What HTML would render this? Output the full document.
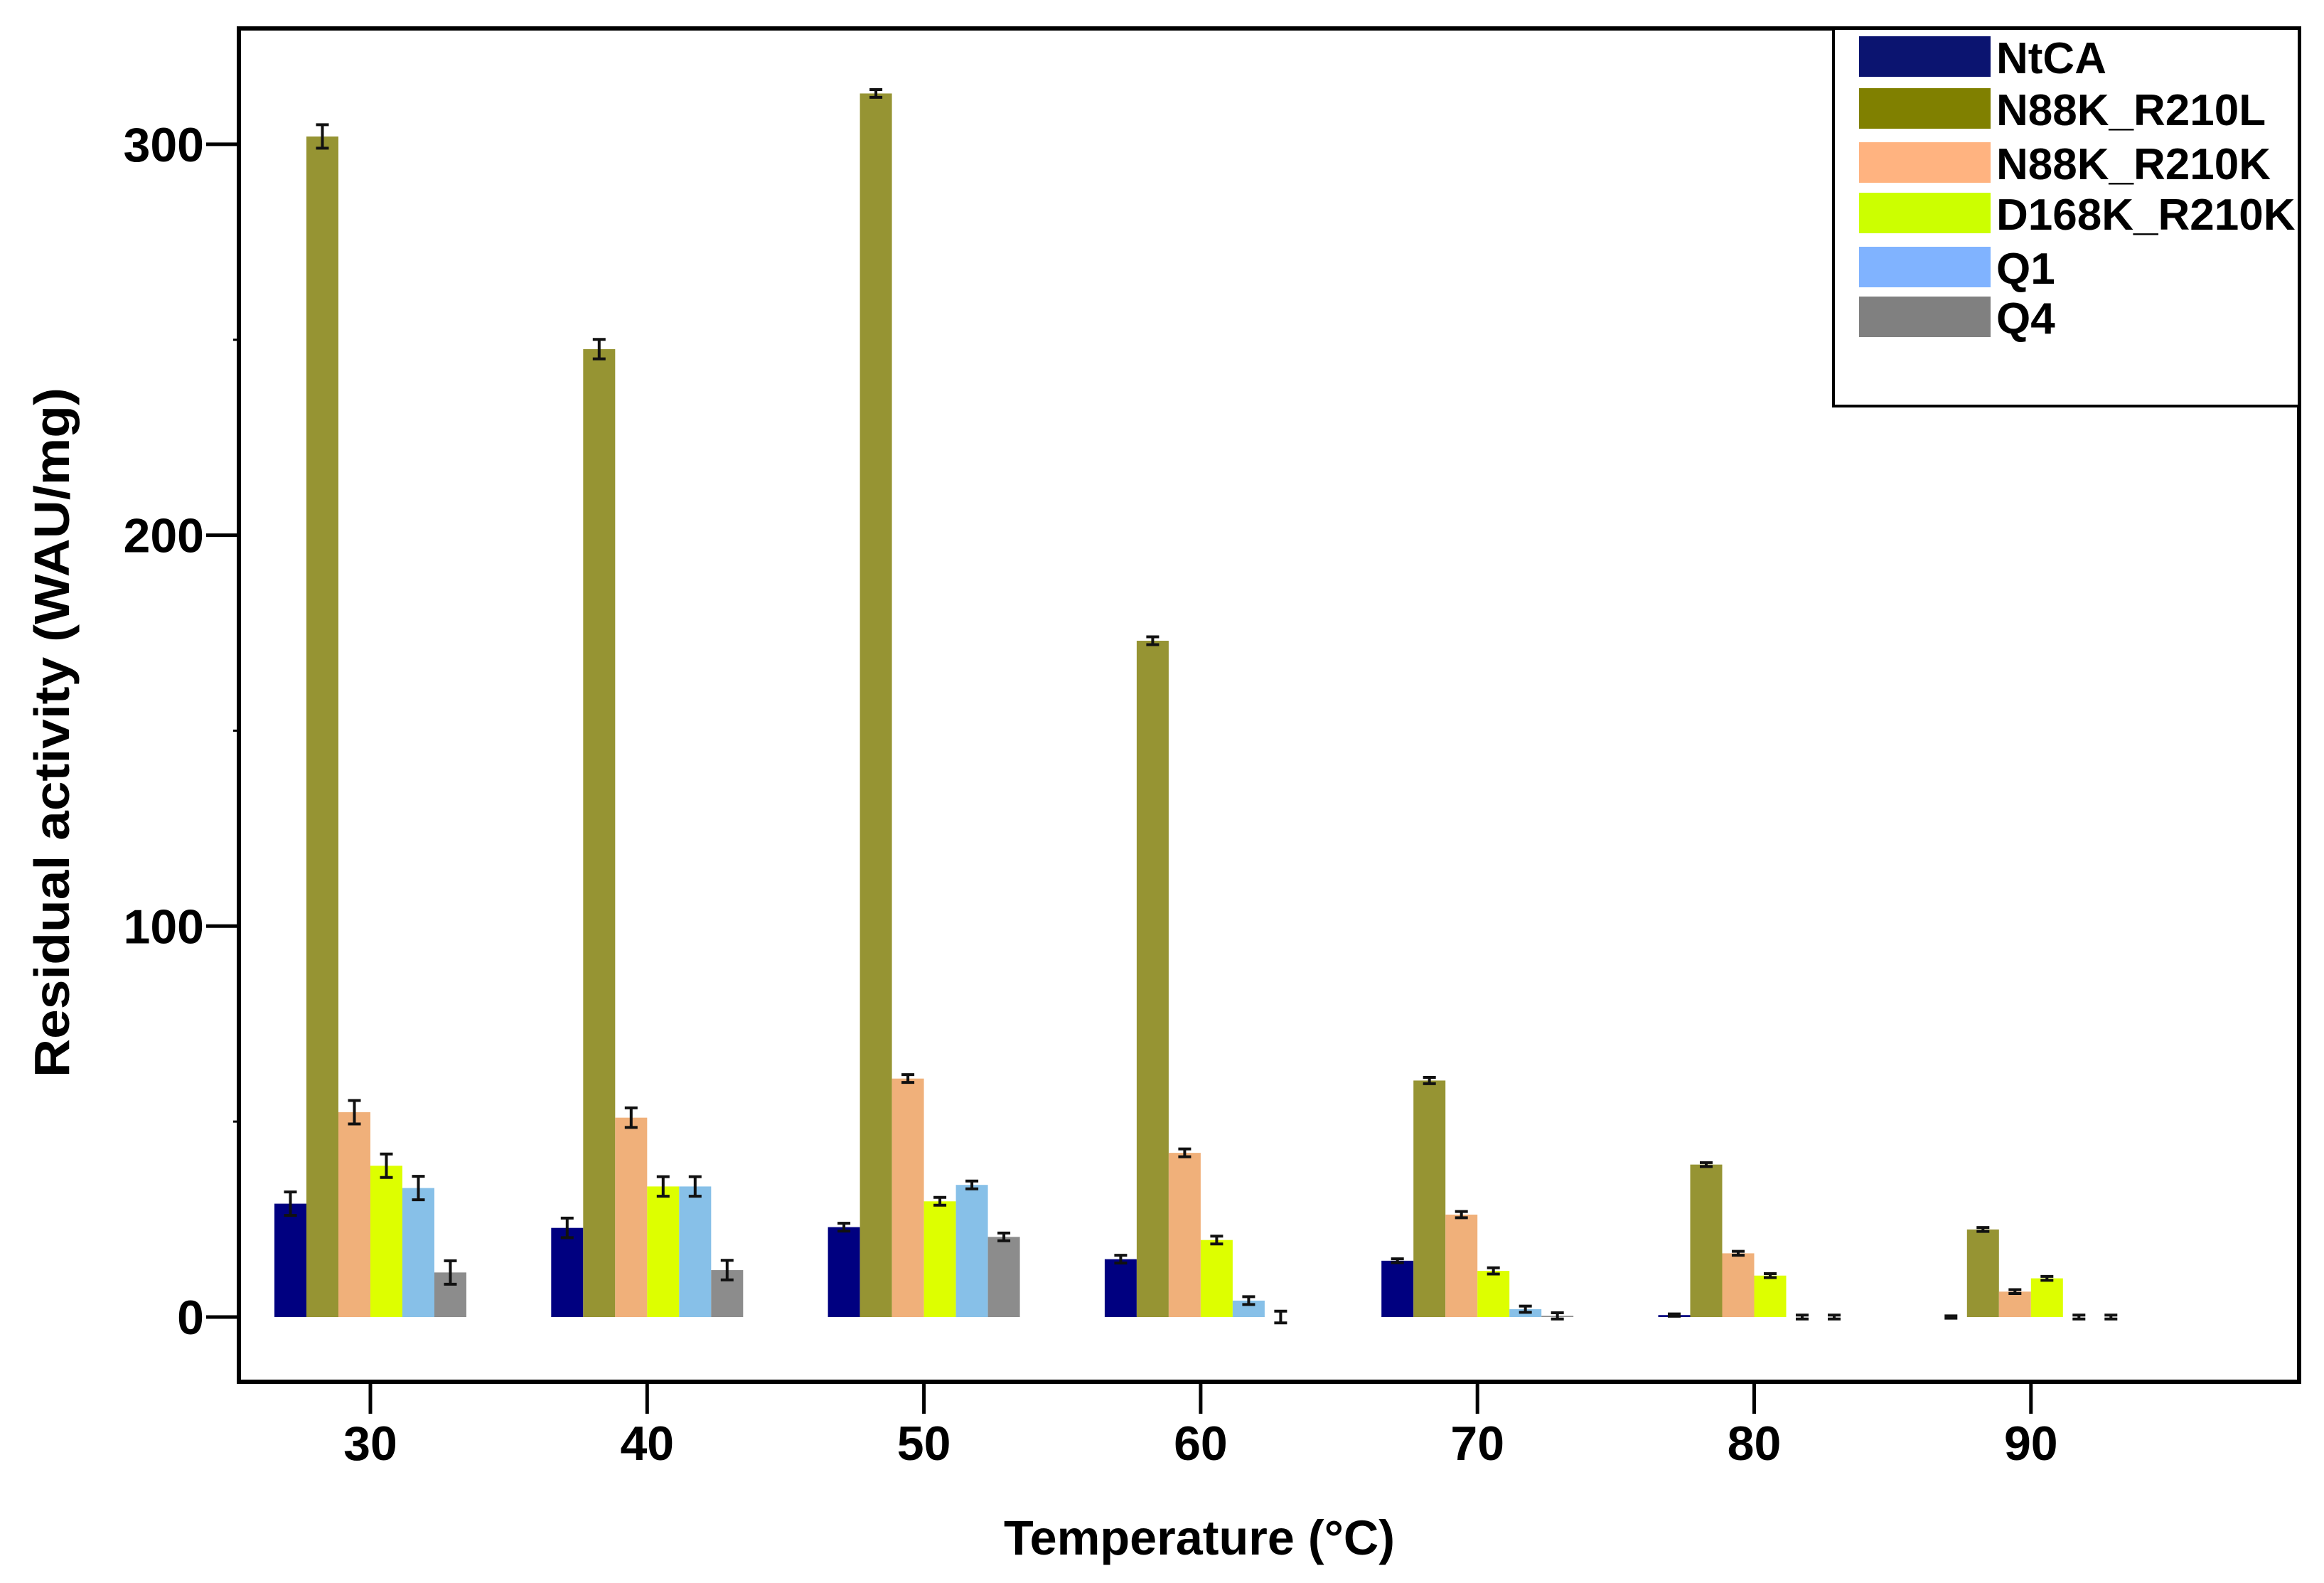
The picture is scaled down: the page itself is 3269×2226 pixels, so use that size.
<!DOCTYPE html>
<html><head><meta charset="utf-8"><style>html,body{margin:0;padding:0;background:#fff}svg{display:block}text{font-family:"Liberation Sans",sans-serif;font-weight:bold;fill:#000}</style></head>
<body>
<svg id="chart" width="3269" height="2226" viewBox="0 0 3269 2226" xmlns="http://www.w3.org/2000/svg">
<rect x="336" y="40" width="2898" height="1903" fill="none" stroke="#000" stroke-width="6"/>
<text transform="translate(97,1030) rotate(-90)" text-anchor="middle" font-size="70" textLength="970" lengthAdjust="spacingAndGlyphs">Residual activity (WAU/mg)</text>
<text x="1687" y="2186" text-anchor="middle" font-size="69" textLength="550" lengthAdjust="spacingAndGlyphs">Temperature (°C)</text>
<g id="axes"></g>
<g id="bars"></g>
<g id="legend"></g>
</svg>
<script>
const categories = ["30","40","50","60","70","80","90"];
const seriesNames = ["NtCA","N88K_R210L","N88K_R210K","D168K_R210K","Q1","Q4"];
const ntca     = [29, 22.8, 23, 14.8, 14.4, 0.5, 0];
const n88kR210l = [302, 247.6, 313, 173, 60.5, 39, 22.4];
const n88kR210k = [52.4, 51, 61, 42, 26.2, 16.3, 6.5];
const d168kR210k = [38.7, 33.4, 29.6, 19.7, 11.8, 10.6, 9.9];
const q1       = [33, 33.4, 33.8, 4.2, 2, 0, 0];
const q4       = [11.4, 12, 20.5, 0, 0.3, 0, 0];
const errNtca  = [3, 2.5, 1, 1, 0.5, 0.3, 0.3];
const errR210l = [3, 2.5, 1, 1, 0.8, 0.5, 0.5];
const errR210k = [3, 2.5, 1, 1, 0.8, 0.5, 0.5];
const errD168k = [3, 2.5, 1, 1, 0.8, 0.5, 0.5];
const errQ1    = [3, 2.5, 1, 1, 0.8, 0.5, 0.5];
const errQ4    = [3, 2.5, 1, 1.5, 0.8, 0.5, 0.5];
const yTicks = [0, 100, 200, 300];
const yMinorTicks = [50, 150, 250];

const seriesValues = [ntca, n88kR210l, n88kR210k, d168kR210k, q1, q4];
const seriesErrors = [errNtca, errR210l, errR210k, errD168k, errQ1, errQ4];
const barColors = ["#000080","#969433","#f0b07a","#ddff00","#87c0e8","#8c8c8c"];
const legendColors = ["#0b1470","#808000","#ffb380","#ccff00","#80b3ff","#808080"];

const NS = "http://www.w3.org/2000/svg";
const Y0 = 1852, PER = 549.7/100;
function yScale(v){ return Y0 - v*PER; }
function xScale(i){ return 521 + i*389.3; }
const BW = 45;
function mk(tag, attrs, parent){ const e=document.createElementNS(NS,tag); for(const k in attrs) e.setAttribute(k,attrs[k]); parent.appendChild(e); return e; }

const axes = document.getElementById('axes');
yTicks.forEach(function(t){
  const y=yScale(t);
  const ln = mk('line',{x1:290,x2:336,y1:y,y2:y,stroke:'#000','stroke-width':5},axes);
  
  
  const tx = mk('text',{x:287,y:y+24,'text-anchor':'end','font-size':68},axes);
  tx.textContent = String(t);
  
  
});
yMinorTicks.forEach(function(t){
  const y=yScale(t);
  const ln = mk('line',{x1:328,x2:336,y1:y,y2:y,stroke:'#000','stroke-width':3},axes);
  
  
});
categories.forEach(function(c,i){
  const x=xScale(i);
  const ln = mk('line',{x1:x,x2:x,y1:1943,y2:1988,stroke:'#000','stroke-width':5},axes);
  
  
  const tx = mk('text',{x:x,y:2053,'text-anchor':'middle','font-size':68},axes);
  tx.textContent = c;
  
  
});

const bars = document.getElementById('bars');
categories.forEach(function(c,i){
  const g0 = xScale(i) - 3*BW;
  seriesValues.forEach(function(vals,s){
    const v=vals[i], x=g0+s*BW, y=yScale(v);
    const r = mk('rect',{x:x,y:y,width:BW,height:Math.max(0,Y0-y),fill:barColors[s]},bars);
    
    
    const e=seriesErrors[s][i], cx=x+BW/2, yt=yScale(v+e), yb=yScale(v-e);
    const eb = mk('path',{d:'M'+(cx-9)+' '+yt+'H'+(cx+9)+'M'+cx+' '+yt+'V'+yb+'M'+(cx-9)+' '+yb+'H'+(cx+9),stroke:'#111','stroke-width':4,fill:'none'},bars);
    
    
  });
});

const legend = document.getElementById('legend');
const lb = mk('rect',{x:2579,y:40,width:655,height:531,fill:'#fff',stroke:'#000','stroke-width':4},legend);


const rowTops = [51,124,200,271,347,417];
seriesNames.forEach(function(n,s){
  const y=rowTops[s];
  const sw = mk('rect',{x:2615,y:y,width:185,height:57,fill:legendColors[s]},legend);
  
  
  const tx = mk('text',{x:2808,y:y+52,'font-size':62},legend);
  tx.textContent = n;
  
  
});
</script>
</body></html>
